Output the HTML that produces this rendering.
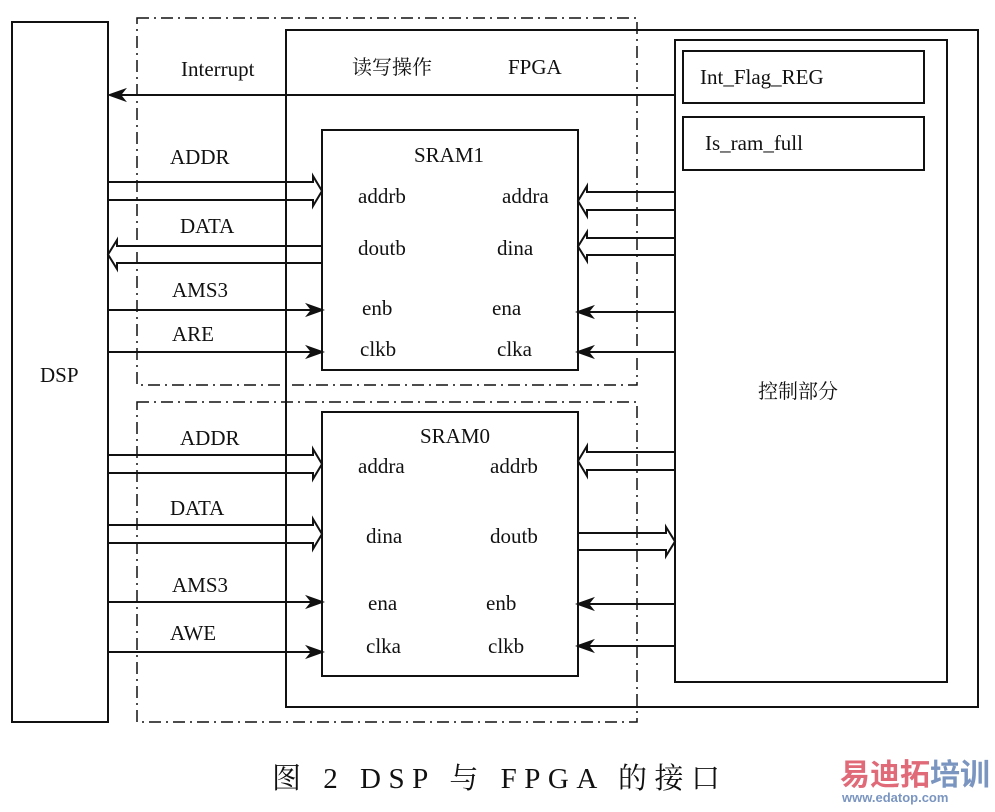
<!DOCTYPE html>
<html><head><meta charset="utf-8"><style>
body{margin:0;background:#fff;}
svg text{font-family:"Liberation Serif","Noto Serif CJK SC",serif;fill:#111;}
</style></head><body>
<svg id="s" width="995" height="807" viewBox="0 0 995 807" xmlns="http://www.w3.org/2000/svg">
<g fill="none" stroke="#111" stroke-width="2">
<rect x="12" y="22" width="96" height="700"/>
<rect x="286" y="30" width="692" height="677"/>
<rect x="675" y="40" width="272" height="642"/>
<rect x="683" y="51" width="241" height="52"/>
<rect x="683" y="117" width="241" height="53"/>
<rect x="322" y="130" width="256" height="240" fill="#fff"/>
<rect x="322" y="412" width="256" height="264" fill="#fff"/>
<rect x="137" y="18" width="500" height="367" stroke-dasharray="12,5,2,5" stroke-width="1.5"/>
<rect x="137" y="402" width="500" height="320" stroke-dasharray="12,5,2,5" stroke-width="1.5"/>
</g>
<g id="arr" fill="none" stroke="#111" stroke-width="2"></g>
<g font-size="21">
<text x="181" y="76">Interrupt</text>
<text x="352" y="74" font-size="20">读写操作</text>
<text x="508" y="74">FPGA</text>
<text x="700" y="84">Int_Flag_REG</text>
<text x="705" y="150">Is_ram_full</text>
<text x="758" y="398" font-size="20">控制部分</text>
<text x="40" y="382">DSP</text>
<text x="170" y="164">ADDR</text>
<text x="180" y="233">DATA</text>
<text x="172" y="297">AMS3</text>
<text x="172" y="341">ARE</text>
<text x="414" y="162">SRAM1</text>
<text x="358" y="203">addrb</text><text x="502" y="203">addra</text>
<text x="358" y="255">doutb</text><text x="497" y="255">dina</text>
<text x="362" y="315">enb</text><text x="492" y="315">ena</text>
<text x="360" y="356">clkb</text><text x="497" y="356">clka</text>
<text x="180" y="445">ADDR</text>
<text x="170" y="515">DATA</text>
<text x="172" y="592">AMS3</text>
<text x="170" y="640">AWE</text>
<text x="420" y="443">SRAM0</text>
<text x="358" y="473">addra</text><text x="490" y="473">addrb</text>
<text x="366" y="543">dina</text><text x="490" y="543">doutb</text>
<text x="368" y="610">ena</text><text x="486" y="610">enb</text>
<text x="366" y="653">clka</text><text x="488" y="653">clkb</text>
</g>
<text x="272" y="788" font-size="29" textLength="448" lengthAdjust="spacing">图 2  DSP 与 FPGA 的接口</text>
<text x="840" y="785" font-size="30" font-weight="bold" style="font-family:'Noto Sans CJK SC',sans-serif;fill:#e06a78">易迪拓</text>
<text x="930" y="785" font-size="30" font-weight="bold" style="font-family:'Noto Sans CJK SC',sans-serif;fill:#7a95c0">培训</text>
<text x="842" y="802" font-size="13" font-weight="bold" style="font-family:'Liberation Sans',sans-serif;fill:#7a95c0">www.edatop.com</text>
</svg>
<script>
var g=document.getElementById('arr'),NS='http://www.w3.org/2000/svg';
function p(d,f){var e=document.createElementNS(NS,'path');e.setAttribute('d',d);if(f)e.setAttribute('fill','#111');g.appendChild(e);}
function bus(x0,x1,y1,y2){var m=(y1+y2)/2,dir=x1>x0?1:-1,h=x1-dir*9;
p('M'+x0+' '+y1+'H'+h+'V'+(y1-6)+'L'+x1+' '+m+'L'+h+' '+(y2+6)+'V'+y2+'H'+x0);}
function sig(x0,x1,y){var dir=x1>x0?1:-1;p('M'+x0+' '+y+'H'+x1);p('M'+x1+' '+y+'L'+(x1-dir*14)+' '+(y-5)+'L'+(x1-dir*10)+' '+y+'L'+(x1-dir*14)+' '+(y+5)+'Z',1);}
sig(675,110,95);
bus(108,322,182,200);bus(322,108,246,263);
p('M675 192V210');bus(675,578,192,210);p('M675 238V255');bus(675,578,238,255);
sig(108,322,310);sig(108,322,352);sig(675,578,312);sig(675,578,352);
bus(108,322,455,473);p('M108 455V473');bus(108,322,525,543);p('M108 525V543');
bus(675,578,452,470);bus(578,675,533,550);
sig(108,322,602);sig(108,322,652);sig(675,578,604);sig(675,578,646);
</script>
</body></html>
